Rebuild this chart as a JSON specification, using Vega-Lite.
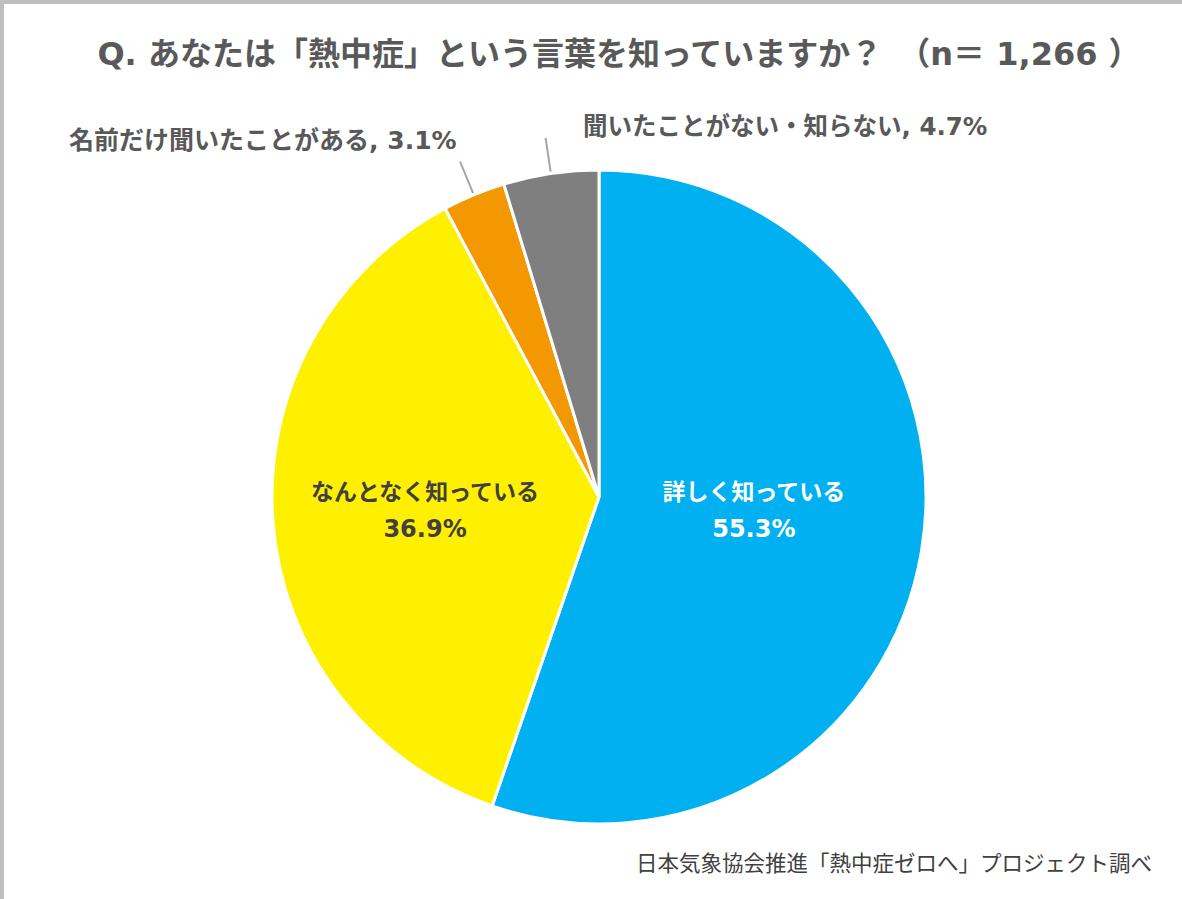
{
  "$schema": "https://vega.github.io/schema/vega-lite/v6.json",
  "autosize": {"type": "none"},
  "padding": {"left": 4, "top": 4, "right": 0, "bottom": 0},
  "width": 1190,
  "height": 986,
  "background": "#BFBFBF",
  "view": {"fill": "#FFFFFF", "stroke": null},
  "title": {
    "text": "Q. あなたは「熱中症」という言葉を知っていますか？　（n＝ 1,266 ）",
    "font": "DejaVu Sans, Noto Sans CJK JP",
    "fontSize": 32,
    "fontWeight": "bold",
    "color": "#595959",
    "anchor": "middle",
    "frame": "group",
    "dx": 20,
    "offset": -68
  },
  "data": {
    "values": [
      {"cat": "詳しく知っている", "pct": 0.553, "idx": 1},
      {"cat": "なんとなく知っている", "pct": 0.369, "idx": 2},
      {"cat": "名前だけ聞いたことがある", "pct": 0.031, "idx": 3},
      {"cat": "聞いたことがない・知らない", "pct": 0.047, "idx": 4}
    ]
  },
  "encoding": {
    "theta": {"field": "pct", "type": "quantitative", "stack": true},
    "order": {"field": "idx", "type": "quantitative"}
  },
  "layer": [
    {
      "mark": {"type": "arc", "outerRadius": 327, "stroke": "#FFFFFF", "strokeWidth": 3},
      "encoding": {
        "color": {
          "field": "cat",
          "type": "nominal",
          "scale": {
            "domain": ["詳しく知っている", "なんとなく知っている", "名前だけ聞いたことがある", "聞いたことがない・知らない"],
            "range": ["#00B0F0", "#FFF000", "#F39800", "#7F7F7F"]
          },
          "legend": null
        }
      }
    },
    {
      "mark": {"type": "arc", "innerRadius": 329, "outerRadius": 363, "padAngle": 0.6, "fill": null, "stroke": "#A6A6A6", "strokeWidth": 2},
      "encoding": {
        "opacity": {"condition": {"test": "datum.idx >= 3", "value": 1}, "value": 0}
      }
    },
    {
      "mark": {"type": "text", "radius": 157, "dy": -30, "font": "Noto Sans CJK JP", "fontSize": 23, "fontWeight": "bold", "fill": "#FFFFFF", "align": "center", "baseline": "middle"},
      "encoding": {
        "text": {"condition": {"test": "datum.idx === 1", "field": "cat", "type": "nominal"}, "value": ""}
      }
    },
    {
      "mark": {"type": "text", "radius": 157, "dy": 7, "font": "DejaVu Sans", "fontSize": 24, "fontWeight": "bold", "fill": "#FFFFFF", "align": "center", "baseline": "middle"},
      "encoding": {
        "text": {"condition": {"test": "datum.idx === 1", "field": "pct", "type": "quantitative", "format": ".1%"}, "value": ""}
      }
    },
    {
      "mark": {"type": "text", "radius": 174.5, "dy": -18, "font": "Noto Sans CJK JP", "fontSize": 23, "fontWeight": "bold", "fill": "#404040", "align": "center", "baseline": "middle"},
      "encoding": {
        "text": {"condition": {"test": "datum.idx === 2", "field": "cat", "type": "nominal"}, "value": ""}
      }
    },
    {
      "mark": {"type": "text", "radius": 174.5, "dy": 19, "font": "DejaVu Sans", "fontSize": 24, "fontWeight": "bold", "fill": "#404040", "align": "center", "baseline": "middle"},
      "encoding": {
        "text": {"condition": {"test": "datum.idx === 2", "field": "pct", "type": "quantitative", "format": ".1%"}, "value": ""}
      }
    },
    {
      "mark": {
        "type": "text", "radius": 385, "dx": 5, "font": "DejaVu Sans, Noto Sans CJK JP", "fontSize": 25, "fontWeight": "bold", "fill": "#595959", "align": "right", "baseline": "middle",
        "text": {"expr": "datum.idx === 3 ? datum.cat + ', ' + format(datum.pct, '.1%') : ''"}
      }
    },
    {
      "mark": {
        "type": "text", "radius": 373, "dx": 39, "font": "DejaVu Sans, Noto Sans CJK JP", "fontSize": 24.5, "fontWeight": "bold", "fill": "#595959", "align": "left", "baseline": "middle",
        "text": {"expr": "datum.idx === 4 ? datum.cat + ', ' + format(datum.pct, '.1%') : ''"}
      }
    },
    {
      "data": {"values": [{"note": "日本気象協会推進「熱中症ゼロへ」プロジェクト調べ"}]},
      "mark": {"type": "text", "x": {"expr": "width - 42"}, "y": {"expr": "height - 125"}, "font": "Noto Sans CJK JP", "fontSize": 21.5, "fill": "#404040", "align": "right", "baseline": "middle"},
      "encoding": {
        "text": {"field": "note", "type": "nominal"},
        "theta": null,
        "order": null
      }
    }
  ]
}
